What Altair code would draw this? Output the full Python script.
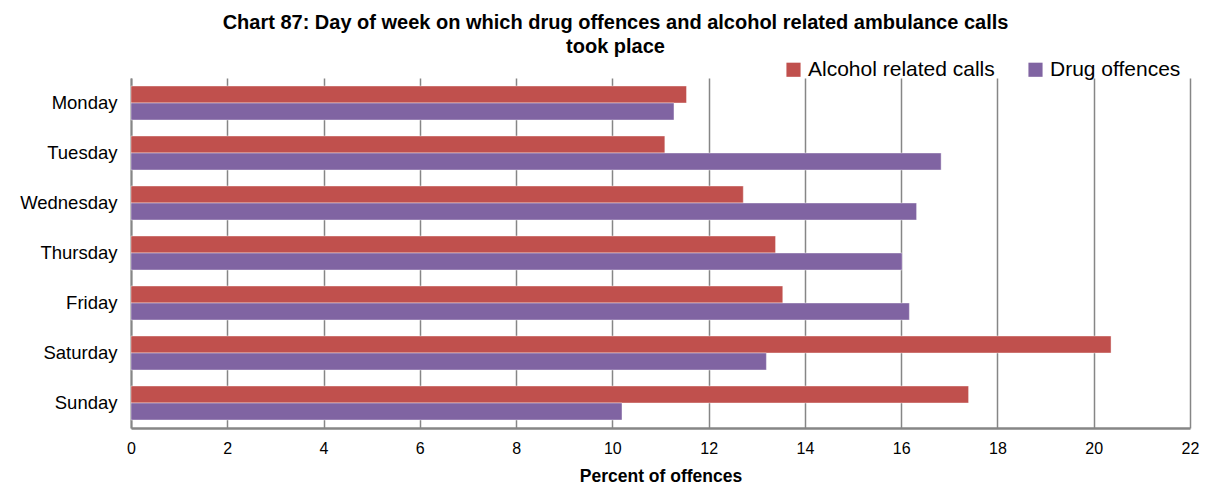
import altair as alt
import pandas as pd

days = ["Monday", "Tuesday", "Wednesday", "Thursday", "Friday", "Saturday", "Sunday"]
series = ["Alcohol related calls", "Drug offences"]
alcohol = [11.54, 11.09, 12.72, 13.39, 13.54, 20.36, 17.40]
drugs = [11.28, 16.83, 16.32, 16.02, 16.17, 13.20, 10.20]
colors = ["#C0504D", "#8064A2"]

rows = []
for d, a, g in zip(days, alcohol, drugs):
    rows.append({"day": d, "series": series[0], "value": a})
    rows.append({"day": d, "series": series[1], "value": g})
df = pd.DataFrame(rows)

font = "Liberation Sans"

chart = alt.Chart(df).mark_bar(stroke="#ffffff", strokeOpacity=0.5, strokeWidth=0.8).encode(
    y=alt.Y("day:N", sort=days, title=None,
            scale=alt.Scale(paddingInner=0.32, paddingOuter=0.16),
            axis=alt.Axis(labelFont=font, labelFontSize=18.5, labelColor="#000000",
                          labelPadding=14, ticks=False, domainColor="#868686",
                          domainWidth=2, grid=False)),
    yOffset=alt.YOffset("series:N", sort=series),
    x=alt.X("value:Q", title="Percent of offences",
            scale=alt.Scale(domain=[0, 22], nice=False),
            axis=alt.Axis(values=list(range(0, 23, 2)), labelFont=font, labelFontSize=16,
                          labelColor="#000000", labelPadding=12, ticks=False,
                          labelFlush=False,
                          domainColor="#868686", domainWidth=2.5,
                          gridColor="#868686", gridWidth=1.5,
                          titleFont=font, titleFontSize=17.5, titleFontWeight="bold",
                          titleColor="#000000", titlePadding=11)),
    color=alt.Color("series:N", sort=series,
                    scale=alt.Scale(domain=series, range=colors),
                    legend=alt.Legend(title=None, orient="none", direction="horizontal",
                                      legendX=652, legendY=-19, symbolType="square",
                                      symbolSize=200, symbolStrokeWidth=0,
                                      labelFont=font, labelFontSize=21, labelColor="#000000",
                                      labelLimit=400, columnPadding=30, labelOffset=4)),
).properties(
    width=1059,
    height=350,
    title=alt.TitleParams(
        text=["Chart 87: Day of week on which drug offences  and alcohol related ambulance calls",
              "took place"],
        font=font, fontSize=20, fontWeight="bold", color="#000000",
        anchor="middle", dx=-45, offset=2, lineHeight=24,
    ),
    autosize=alt.AutoSizeParams(type="none"),
    padding={"left": 123, "top": 70, "right": 10, "bottom": 56},
).configure_view(stroke=None)

chart.save("out.html", embed_options={"renderer": "svg", "actions": False})
